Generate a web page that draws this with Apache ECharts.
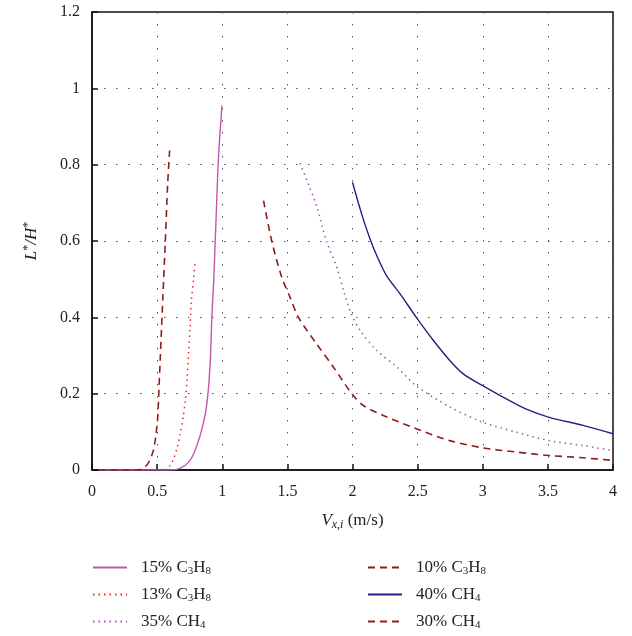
<!DOCTYPE html>
<html>
<head>
<meta charset="utf-8">
<script src="https://cdn.jsdelivr.net/npm/echarts@6/dist/echarts.min.js"></script>
<style>
    html, body { margin: 0; padding: 0; background: #fff; }
    #chart { width: 632px; height: 636px; }
</style>
</head>
<body>
<div id="chart"></div>
<script>
    // [V_x,i, L*/H*]
    const c3h8_15 = [[0.05, 0], [0.4, 0], [0.6, 0], [0.68, 0.005], [0.74, 0.02], [0.78, 0.042], [0.83, 0.09], [0.87, 0.147], [0.895, 0.217], [0.91, 0.3], [0.92, 0.4], [0.935, 0.5], [0.946, 0.6], [0.957, 0.7], [0.967, 0.79], [0.98, 0.87], [0.998, 0.955]];
    const c3h8_13 = [[0.56, 0], [0.6, 0.012], [0.627, 0.03], [0.655, 0.06], [0.678, 0.095], [0.7, 0.14], [0.716, 0.18], [0.73, 0.24], [0.742, 0.31], [0.752, 0.37], [0.762, 0.44], [0.78, 0.5], [0.793, 0.549]];
    const ch4_35 = [[1.597, 0.804], [1.66, 0.75], [1.726, 0.69], [1.8, 0.6], [1.88, 0.53], [1.94, 0.46], [1.99, 0.41], [2.06, 0.365], [2.186, 0.313], [2.34, 0.27], [2.49, 0.22], [2.75, 0.165], [3.0, 0.125], [3.26, 0.099], [3.51, 0.077], [3.77, 0.064], [4.0, 0.051]];
    const c3h8_10 = [[0.05, 0], [0.36, 0], [0.4, 0.006], [0.435, 0.02], [0.47, 0.05], [0.49, 0.09], [0.505, 0.14], [0.515, 0.22], [0.525, 0.3], [0.545, 0.46], [0.563, 0.6], [0.581, 0.75], [0.596, 0.837]];
    const ch4_40 = [[2.0, 0.754], [2.07, 0.671], [2.134, 0.606], [2.186, 0.562], [2.26, 0.51], [2.364, 0.462], [2.49, 0.4], [2.62, 0.34], [2.747, 0.287], [2.85, 0.252], [3.0, 0.221], [3.155, 0.191], [3.33, 0.16], [3.51, 0.138], [3.77, 0.117], [4.0, 0.095]];
    const ch4_30 = [[1.317, 0.706], [1.38, 0.6], [1.457, 0.505], [1.52, 0.453], [1.585, 0.4], [1.725, 0.33], [1.853, 0.27], [1.994, 0.2], [2.083, 0.169], [2.236, 0.143], [2.49, 0.108], [2.747, 0.077], [3.0, 0.058], [3.26, 0.047], [3.51, 0.038], [3.77, 0.032], [4.0, 0.025]];

    const leftNames = ['15% C3H8', '13% C3H8', '35% CH4'];
    const rightNames = ['10% C3H8', '40% CH4', '30% CH4'];

    const font = '"Liberation Serif", "DejaVu Serif", serif';
    const dotGrid = { color: '#555', width: 1, type: [1.5, 10.5] };

    function subs(name) {
        // C3H8 -> C{s|3}H{s|8}
        return name.replace(/([A-Z])(\d+)/g, '$1{s|$2}');
    }

    function line(name, data, color, type, width) {
        return {
            name: name,
            type: 'line',
            data: data,
            symbol: 'none',
            smooth: 0.3,
            lineStyle: { color: color, width: width || 1.4, type: type },
            itemStyle: { color: color }
        };
    }

    const legendText = {
        fontFamily: font,
        fontSize: 17,
        color: '#222',
        padding: [0, 0, 0, 9],
        rich: {
            s: { fontFamily: font, fontSize: 11, color: '#222', padding: [8, 0, 0, 0] }
        }
    };

    const legendBase = {
        orient: 'vertical', top: 559, padding: 0,
        itemWidth: 34, itemHeight: 12, itemGap: 9,
        itemStyle: { opacity: 0 },
        formatter: subs, textStyle: legendText
    };

    const option = {
        animation: false,
        textStyle: { fontFamily: font },
        grid: {
            left: 92, right: 19, top: 12, bottom: 166,
            show: true, borderColor: '#111', borderWidth: 1.5
        },
        legend: [
            Object.assign({ data: leftNames, left: 92 }, legendBase),
            Object.assign({ data: rightNames, left: 367 }, legendBase)
        ],
        xAxis: {
            type: 'value', min: 0, max: 4, interval: 0.5,
            name: '{i|V}{si|x,i}{n| (m/s)}', nameLocation: 'middle', nameGap: 41,
            nameTextStyle: {
                rich: {
                    i: { fontFamily: font, fontStyle: 'italic', fontSize: 17, color: '#222' },
                    si: { fontFamily: font, fontStyle: 'italic', fontSize: 12, color: '#222', padding: [8, 0, 0, 0] },
                    n: { fontFamily: font, fontSize: 17, color: '#222' }
                }
            },
            axisLine: { show: true, lineStyle: { color: '#111', width: 1.5 } },
            axisTick: { inside: true, length: 6, lineStyle: { color: '#111', width: 1.5 } },
            axisLabel: { fontFamily: font, fontSize: 16, color: '#222', margin: 14 },
            splitLine: { show: true, lineStyle: dotGrid }
        },
        yAxis: {
            type: 'value', min: 0, max: 1.2, interval: 0.2,
            name: '{i|L}{sp|*}{i|/H}{sp|*}', nameLocation: 'middle', nameGap: 50, nameRotate: 90,
            nameTextStyle: {
                rich: {
                    i: { fontFamily: font, fontStyle: 'italic', fontWeight: 'normal', fontSize: 17, color: '#222' },
                    sp: { fontFamily: font, fontWeight: 'normal', fontSize: 12, color: '#222', padding: [0, 0, 8, 0] }
                }
            },
            axisLine: { show: true, lineStyle: { color: '#111', width: 1.5 } },
            axisTick: { inside: true, length: 6, lineStyle: { color: '#111', width: 1.5 } },
            axisLabel: { fontFamily: font, fontSize: 16, color: '#222', margin: 12 },
            splitLine: { show: true, lineStyle: dotGrid }
        },
        series: [
            line('15% C3H8', c3h8_15, '#c455ad', 'solid', 1.4),
            line('13% C3H8', c3h8_13, '#ff2020', [1.5, 4], 1.5),
            line('35% CH4', ch4_35, '#a452b4', [1.5, 4], 1.5),
            line('10% C3H8', c3h8_10, '#8e1d1d', [7, 5], 1.6),
            line('40% CH4', ch4_40, '#22227e', 'solid', 1.4),
            line('30% CH4', ch4_30, '#8e1d1d', [7, 5], 1.6)
        ]
    };

    const chart = echarts.init(document.getElementById('chart'));
    chart.setOption(option);
</script>
</body>
</html>
